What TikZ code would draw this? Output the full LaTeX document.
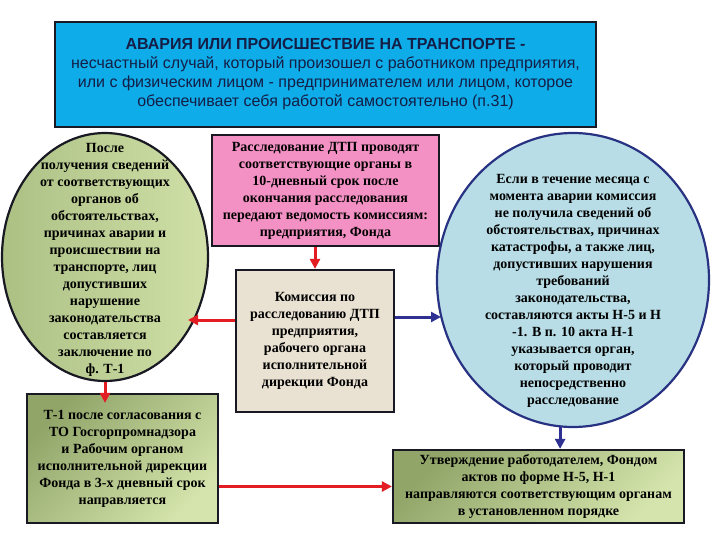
\documentclass[tikz,border=0pt]{standalone}
\usepackage{fontspec}
\setmainfont{Liberation Serif}
\newfontfamily\headfont{Liberation Sans}
\usetikzlibrary{shapes.geometric,arrows.meta}

\definecolor{frame}{RGB}{25,25,35}
\definecolor{topblue}{RGB}{14,172,232}
\definecolor{toptext}{RGB}{20,30,70}
\definecolor{inquirypink}{RGB}{244,145,196}
\definecolor{commissiontan}{RGB}{233,225,210}
\definecolor{olivedark}{RGB}{145,165,105}
\definecolor{olivelight}{RGB}{212,228,172}
\definecolor{ovaldark}{RGB}{172,192,132}
\definecolor{ovallight}{RGB}{208,224,168}
\definecolor{actsblue}{RGB}{184,221,230}
\definecolor{ovalblue}{RGB}{40,50,130}
\definecolor{arrowred}{RGB}{226,30,36}
\definecolor{arrowblue}{RGB}{46,49,146}

\begin{document}
\begin{tikzpicture}[x=1pt, y=-1pt,
	every node/.style={font=\fontsize{14}{17}\selectfont\bfseries, align=center, inner sep=0pt},
	box/.style={draw=frame, line width=2.2pt},
	greenbox/.style={top color=olivedark, bottom color=olivelight, shading angle=45},
	redarrow/.style={draw=arrowred, line width=3pt, -{Triangle[length=10pt,width=10pt]}},
	bluearrow/.style={draw=arrowblue, line width=3pt, -{Triangle[length=10pt,width=10pt]}}]
	\useasboundingbox (0,0) rectangle (720,540);
	\node[box, fill=topblue, text=toptext, minimum width=541pt, minimum height=105pt,
		font=\headfont\fontsize{16}{19}\selectfont] (incident) at (325.5,74.5)
		{\textbf{АВАРИЯ ИЛИ ПРОИСШЕСТВИЕ НА ТРАНСПОРТЕ -}\\
		несчастный случай, который произошел с работником предприятия,\\
		или с физическим лицом - предпринимателем или лицом, которое\\
		обеспечивает себя работой самостоятельно (п.31)};
	\node[box, fill=inquirypink, minimum width=227pt, minimum height=111pt] (inquiry) at (325.5,190.5)
		{Расследование ДТП проводят\\ соответствующие органы в\\ 10-дневный срок после\\
		окончания расследования\\ передают ведомость комиссиям:\\ предприятия, Фонда};
	\node[box, fill=commissiontan, minimum width=158pt, minimum height=142pt] (commission) at (315,341)
		{Комиссия по\\ расследованию ДТП\\ предприятия,\\ рабочего органа\\ исполнительной\\ дирекции Фонда};
	\node[ellipse, draw=frame, line width=2.2pt, left color=ovaldark, right color=ovallight,
		minimum width=206pt, minimum height=248pt] (conclusion) at (105,257) {};
	\node (conclusiontext) at (105,260)
		{После\\ получения сведений\\ от соответствующих\\ органов об\\ обстоятельствах,\\
		причинах аварии и\\ происшествии на\\ транспорте, лиц\\ допустивших\\ нарушение\\
		законодательства\\ составляется\\ заключение по\\ ф. Т-1};
	\node[ellipse, draw=ovalblue, line width=2.2pt, fill=actsblue,
		minimum width=272pt, minimum height=294pt] (acts) at (573,280) {};
	\node (actstext) at (573,291)
		{Если в течение месяца с\\ момента аварии комиссия\\ не получила сведений об\\
		обстоятельствах, причинах\\ катастрофы, а также лиц,\\ допустивших нарушения\\
		требований\\ законодательства,\\ составляются акты Н-5 и Н\\ -1. В п. 10 акта Н-1\\
		указывается орган,\\ который проводит\\ непосредственно\\ расследование};
	\node[box, greenbox, minimum width=191pt, minimum height=129pt] (agreed) at (122.5,458.5)
		{Т-1 после согласования с\\ ТО Госгорпромнадзора\\ и Рабочим органом\\
		исполнительной дирекции\\ Фонда в 3-х дневный срок\\ направляется};
	\node[box, greenbox, minimum width=291pt, minimum height=73pt] (approved) at (538.5,486.5)
		{Утверждение работодателем, Фондом\\ актов по форме Н-5, Н-1\\
		направляются соответствующим органам\\ в установленном порядке};
	\coordinate (conclusionin) at (188,320);
	\coordinate (actsin) at (441,317);
	\draw[redarrow] (commission.north |- inquiry.south) -- (commission.north);
	\draw[redarrow] (commission.west |- conclusionin) -- (conclusionin);
	\draw[bluearrow] (commission.east |- actsin) -- (actsin);
	\draw[redarrow, shorten >=-10pt] (conclusion.south) -- (conclusion.south |- agreed.north);
	\draw[bluearrow] (acts.265) -- (acts.265 |- approved.north);
	\draw[redarrow] (agreed.east |- approved.west) -- (approved.west);
\end{tikzpicture}
\end{document}
